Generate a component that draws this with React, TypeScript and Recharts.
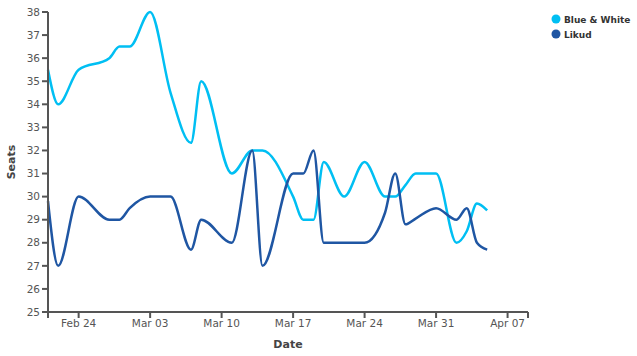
import React from 'react';
import { LineChart, Line, XAxis, YAxis } from 'recharts';

// Day index: 0 = Feb 21
const dateLabels: Record<number, string> = {
  3: 'Feb 24', 10: 'Mar 03', 17: 'Mar 10', 24: 'Mar 17', 31: 'Mar 24', 38: 'Mar 31', 45: 'Apr 07',
};
const xTicks = [0, 3, 10, 17, 24, 31, 38, 45, 47];
const yTicks = [25, 26, 27, 28, 29, 30, 31, 32, 33, 34, 35, 36, 37, 38];

const blueWhiteDays = [0, 1, 3, 6, 7, 8, 10, 12, 14, 15, 18, 20, 21, 24, 25, 26, 27, 29, 31, 33, 34, 35, 36, 38, 40, 41, 42, 43];
const blueWhiteSeats = [35.5, 34, 35.5, 36, 36.5, 36.5, 38, 34.5, 32.33, 35, 31, 32, 32, 30, 29, 29, 31.5, 30, 31.5, 30, 30, 30.5, 31, 31, 28, 28.5, 29.7, 29.4];

const likudDays = [0, 1, 3, 6, 7, 8, 10, 12, 14, 15, 18, 20, 21, 24, 25, 26, 27, 31, 33, 34, 35, 36, 38, 40, 41, 42, 43];
const likudSeats = [29.8, 27, 30, 29, 29, 29.5, 30, 30, 27.7, 29, 28, 32, 27, 31, 31, 32, 28, 28, 29.3, 31, 28.8, 29.05, 29.5, 29, 29.5, 28, 27.7];

const blueWhite = blueWhiteDays.map((d, i) => ({ day: d, seats: blueWhiteSeats[i] }));
const likud = likudDays.map((d, i) => ({ day: d, seats: likudSeats[i] }));

const LIGHT = '#00BFF3';
const DARK = '#1F56A3';
const AXIS = '#555555';
const FONT = 'DejaVu Sans, sans-serif';

const legendItems = [
  { name: 'Blue & White', color: LIGHT },
  { name: 'Likud', color: DARK },
];

export default function App() {
  return (
    <div style={{ position: 'absolute', left: 0, top: 0, width: 637, height: 356, background: '#fff' }}>
      <LineChart width={637} height={356} margin={{ top: 12, right: 109, bottom: 0, left: 0 }}>
        <XAxis
          dataKey="day"
          type="number"
          domain={[0, 47]}
          ticks={xTicks}
          interval={0}
          allowDuplicatedCategory={false}
          tickFormatter={(v: number) => dateLabels[v] ?? ''}
          height={44}
          stroke={AXIS}
          strokeWidth={2}
          tickSize={6}
          tick={{ fill: '#555', fontSize: 10.5, fontFamily: FONT }}
          label={{
            content: (props: any) => {
              const vb = props.viewBox;
              return (
                <text x={vb.x + vb.width / 2} y={348} textAnchor="middle" fontSize={11} fontWeight="bold" fontFamily={FONT} fill="#444">Date</text>
              );
            },
          }}
        />
        <YAxis
          type="number"
          domain={[25, 38]}
          ticks={yTicks}
          interval={0}
          width={48}
          stroke={AXIS}
          strokeWidth={2}
          tickSize={6}
          tick={{ fill: '#555', fontSize: 10.5, fontFamily: FONT }}
          label={{
            content: (props: any) => {
              const vb = props.viewBox;
              const cy = vb.y + vb.height / 2;
              return (
                <text x={15} y={cy} transform={`rotate(-90, 15, ${cy})`} textAnchor="middle" fontSize={11} fontWeight="bold" fontFamily={FONT} fill="#444">Seats</text>
              );
            },
          }}
        />
        <Line data={blueWhite} dataKey="seats" name="Blue & White" type="monotone" stroke={LIGHT} strokeWidth={2.5} dot={false} isAnimationActive={false} />
        <Line data={likud} dataKey="seats" name="Likud" type="monotone" stroke={DARK} strokeWidth={2.5} dot={false} isAnimationActive={false} />
      </LineChart>
      <svg width={90} height={34} style={{ position: 'absolute', left: 551, top: 14 }}>
        {legendItems.map((it, i) => (
          <g key={it.name}>
            <circle cx={5} cy={5 + i * 15} r={4.5} fill={it.color} />
            <text x={13} y={8.5 + i * 15} fontSize={9} fontFamily={FONT} fill="#333" fontWeight="bold">{it.name}</text>
          </g>
        ))}
      </svg>
    </div>
  );
}
